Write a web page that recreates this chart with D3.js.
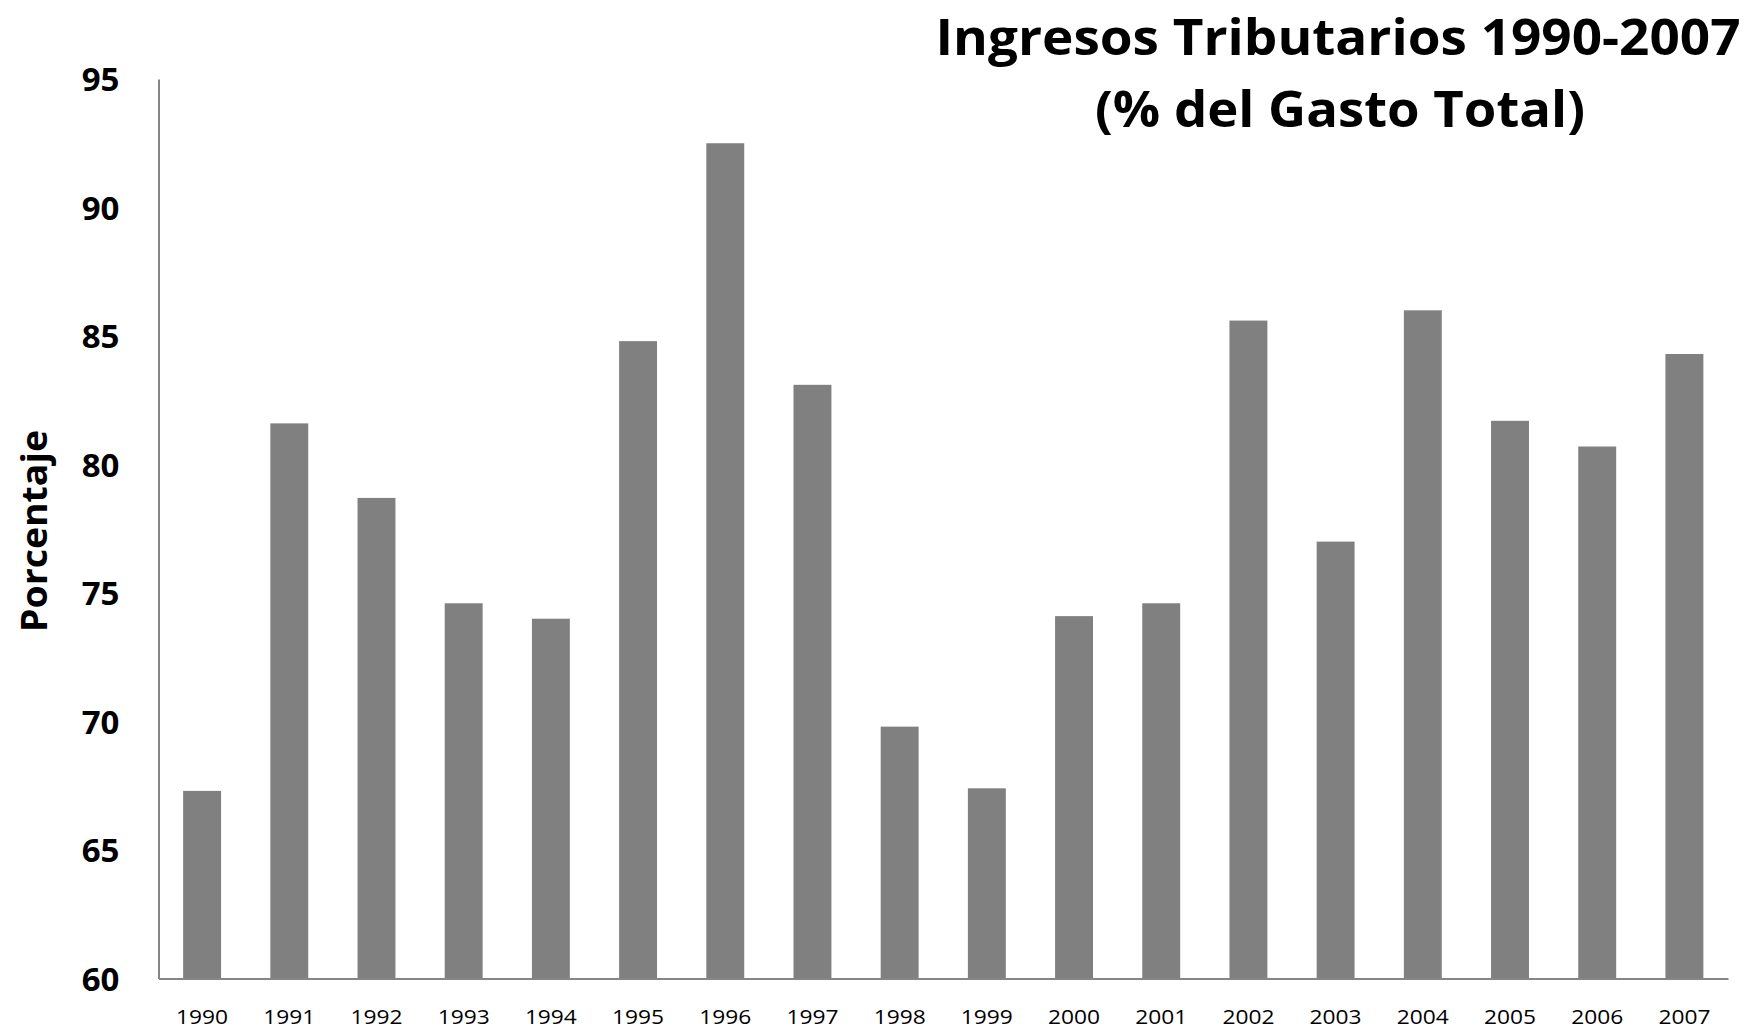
<!DOCTYPE html>
<html><head><meta charset="utf-8">
<script src="https://cdn.jsdelivr.net/npm/d3@7"></script>
<style>body{margin:0;background:#fff}svg{display:block}</style>
</head><body>
<svg id="c" width="1763" height="1032"></svg>
<script>
const years = ["1990","1991","1992","1993","1994","1995","1996","1997","1998","1999","2000","2001","2002","2003","2004","2005","2006","2007"];
const values = [67.3,81.6,78.7,74.6,74.0,84.8,92.5,83.1,69.8,67.4,74.1,74.6,85.6,77.0,86.0,81.7,80.7,84.3];
const yTicks = [60,65,70,75,80,85,90,95];
const titleLines = ["Ingresos Tributarios 1990-2007","(% del Gasto Total)"];
const yLabel = "Porcentaje";

const svg = d3.select("#c");
const m = {left:158.5, right:1728, top:79, bottom:978.5};
const x = d3.scaleBand().domain(years).range([m.left, m.right]).paddingInner(0.565).paddingOuter(0.2825);
const y = d3.scaleLinear().domain([60,95]).range([m.bottom, m.top]);
const font = "'Open Sans', 'DejaVu Sans', sans-serif";

svg.append("g").selectAll("rect").data(values).join("rect")
  .attr("x",(d,i)=>x(years[i])).attr("width",x.bandwidth())
  .attr("y",d=>y(d)).attr("height",d=>y(60)-y(d))
  .attr("fill","#808080");

// y axis
const ya = svg.append("g").attr("transform",`translate(${m.left},0)`)
  .call(d3.axisLeft(y).tickValues(yTicks).tickSize(0).tickPadding(39));
ya.select(".domain").attr("stroke","#868686").attr("stroke-width",2);
ya.selectAll("text").attr("font-family",font).attr("font-weight","bold").attr("font-size",33).attr("fill","#000").attr("dy","0.36em");

// x axis
const xa = svg.append("g").attr("transform",`translate(0,${m.bottom})`)
  .call(d3.axisBottom(x).tickSize(0).tickPadding(31));
xa.select(".domain").attr("stroke","#868686").attr("stroke-width",2);
xa.selectAll("text").attr("font-family",font).attr("font-size",20).attr("fill","#000")
  .attr("textLength",52).attr("lengthAdjust","spacingAndGlyphs");

// y label
svg.append("text").attr("transform","translate(47,531) rotate(-90)")
  .attr("text-anchor","middle").attr("font-family",font).attr("font-weight","bold")
  .attr("font-size",35).attr("textLength",202).attr("lengthAdjust","spacingAndGlyphs").text(yLabel);

// title
svg.append("text").attr("x",1338).attr("y",55).attr("text-anchor","middle")
  .attr("font-family",font).attr("font-weight","bold").attr("font-size",50)
  .attr("textLength",805).attr("lengthAdjust","spacingAndGlyphs").text(titleLines[0]);
svg.append("text").attr("x",1340).attr("y",127).attr("text-anchor","middle")
  .attr("font-family",font).attr("font-weight","bold").attr("font-size",50)
  .attr("textLength",490).attr("lengthAdjust","spacingAndGlyphs").text(titleLines[1]);
</script>
</body></html>
